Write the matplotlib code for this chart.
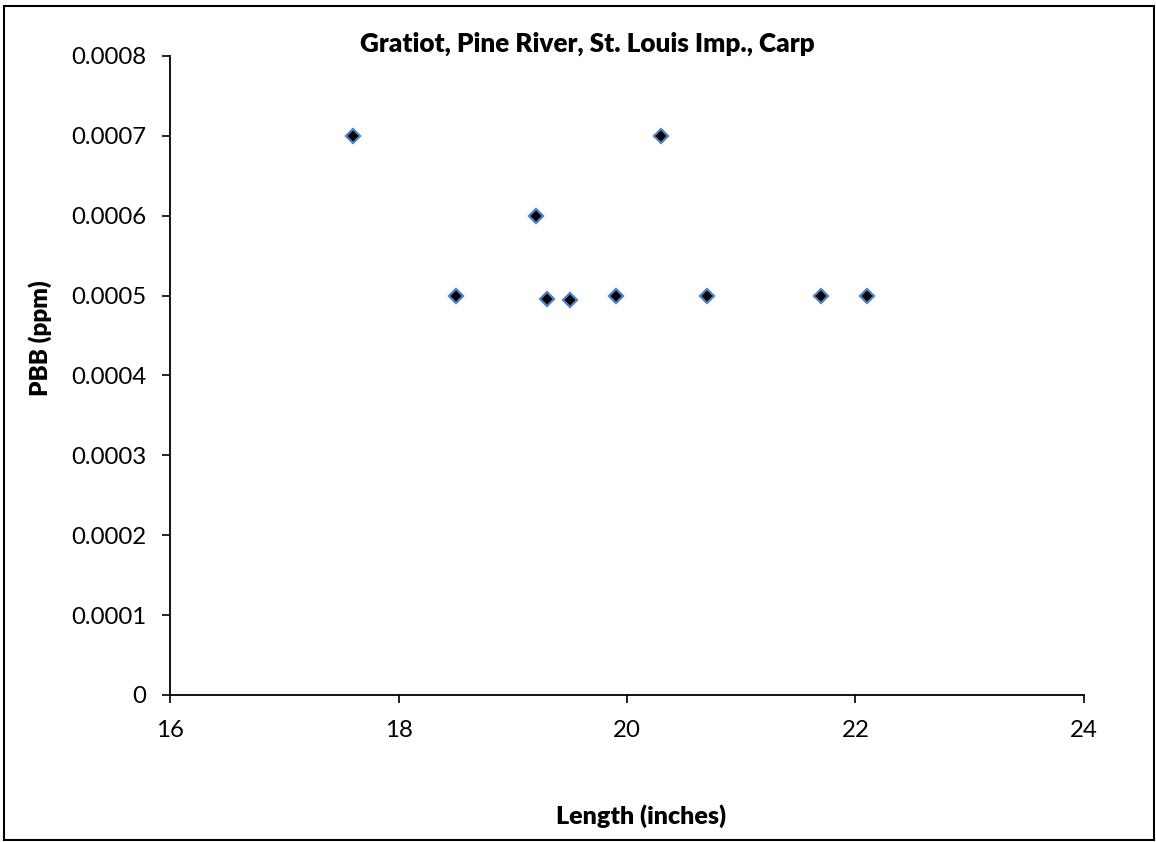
import matplotlib.pyplot as plt
from matplotlib.patches import Rectangle

# --- data ---
length_in = [17.6, 18.5, 19.2, 19.3, 19.5, 19.9, 20.3, 20.7, 21.7, 22.1]
pbb_ppm = [0.0007, 0.0005, 0.0006, 0.000496, 0.000495, 0.0005, 0.0007, 0.0005, 0.0005, 0.0005]

x_ticks = [16, 18, 20, 22, 24]
y_ticks = [0, 0.0001, 0.0002, 0.0003, 0.0004, 0.0005, 0.0006, 0.0007, 0.0008]
y_tick_labels = ['0', '0.0001', '0.0002', '0.0003', '0.0004', '0.0005', '0.0006', '0.0007', '0.0008']

title = 'Gratiot, Pine River, St. Louis Imp., Carp'

plt.rcParams['font.family'] = ['Lato', 'DejaVu Sans']

fig = plt.figure(figsize=(11.56, 8.42), dpi=100)
ax = fig.add_axes([0.1471, 0.1746, 0.7906, 0.7589])

ax.plot(length_in, pbb_ppm, linestyle='none', marker='D', markersize=7.3,
        markerfacecolor='black', markeredgecolor='#4F81BD', markeredgewidth=1.6)

ax.set_xlim(16, 24)
ax.set_ylim(0, 0.0008)
ax.set_xticks(x_ticks)
ax.set_yticks(y_ticks)
ax.set_yticklabels(y_tick_labels)
ax.tick_params(direction='out', length=6, width=1.2, labelsize=17.3)
ax.tick_params(axis='y', pad=11)
ax.tick_params(axis='x', pad=12)

for side in ['top', 'right']:
    ax.spines[side].set_visible(False)
for side in ['left', 'bottom']:
    ax.spines[side].set_linewidth(1.3)

fig.text(587 / 1156, 1 - 44 / 842, title, ha='center', va='center',
         fontsize=18.8, fontweight='heavy')
fig.text(641 / 1156, 1 - 816 / 842, 'Length (inches)', ha='center', va='center',
         fontsize=18, fontweight='heavy')
fig.text(40 / 1156, 1 - 338 / 842, 'PBB (ppm)', ha='center', va='center',
         rotation=90, fontsize=17.5, fontweight='heavy')

# outer chart border
fig.patches.append(Rectangle((4 / 1156, 1 - 840 / 842), 1150 / 1156, 834 / 842,
                             transform=fig.transFigure, fill=False,
                             edgecolor='black', linewidth=1.5))

fig.savefig('out.png', dpi=100)
